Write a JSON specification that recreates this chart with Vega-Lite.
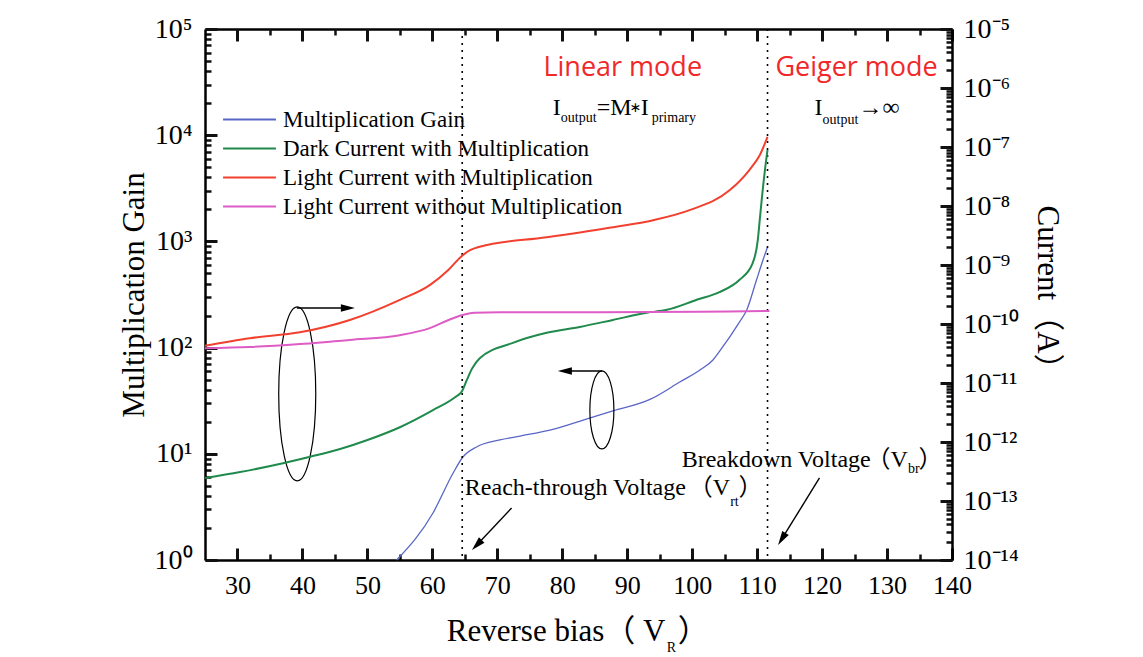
{
  "$schema": "https://vega.github.io/schema/vega-lite/v6.json",
  "width": 747,
  "height": 531,
  "autosize": {"type": "none"},
  "padding": {"left": 205, "top": 29, "right": 191, "bottom": 97},
  "background": "white",
  "config": {
    "view": {"stroke": null},
    "axis": {"grid": false, "ticks": true, "tickOpacity": 1, "domainColor": "#000", "tickColor": "#111111", "labelColor": "#000", "titleColor": "#000", "labelFont": "Liberation Serif", "titleFont": "Liberation Serif, Noto Sans CJK SC", "titleFontWeight": "normal", "labelFlush": false, "labelOverlap": false},
    "legend": {"labelFont": "Liberation Serif", "labelFontSize": 23, "labelColor": "#000", "symbolSize": 529, "symbolStrokeWidth": 2, "labelOffset": 21, "rowPadding": 4, "labelLimit": 0, "symbolType": "M-2.3,0L2.3,0"}
  },
  "datasets": {
    "curves": [
      {"series": "Multiplication Gain", "V": 54.5, "value": 1.0},
      {"series": "Multiplication Gain", "V": 60.1, "value": 2.77},
      {"series": "Multiplication Gain", "V": 63.2, "value": 6.6},
      {"series": "Multiplication Gain", "V": 64.7, "value": 9.33},
      {"series": "Multiplication Gain", "V": 66.8, "value": 11.6},
      {"series": "Multiplication Gain", "V": 70.4, "value": 13.5},
      {"series": "Multiplication Gain", "V": 73.5, "value": 14.7},
      {"series": "Multiplication Gain", "V": 78.1, "value": 16.7},
      {"series": "Multiplication Gain", "V": 84.2, "value": 21.7},
      {"series": "Multiplication Gain", "V": 87.8, "value": 25.3},
      {"series": "Multiplication Gain", "V": 93.5, "value": 32.5},
      {"series": "Multiplication Gain", "V": 98.1, "value": 47.4},
      {"series": "Multiplication Gain", "V": 101.2, "value": 61.5},
      {"series": "Multiplication Gain", "V": 103.2, "value": 76.4},
      {"series": "Multiplication Gain", "V": 104.2, "value": 92},
      {"series": "Multiplication Gain", "V": 107.3, "value": 175},
      {"series": "Multiplication Gain", "V": 108.4, "value": 226},
      {"series": "Multiplication Gain", "V": 109.9, "value": 433},
      {"series": "Multiplication Gain", "V": 110.8, "value": 640},
      {"series": "Multiplication Gain", "V": 111.6, "value": 886},
      {"series": "Dark Current with Multiplication", "V": 25, "value": 2.45e-13},
      {"series": "Dark Current with Multiplication", "V": 30.4, "value": 3.09e-13},
      {"series": "Dark Current with Multiplication", "V": 37.0, "value": 4.37e-13},
      {"series": "Dark Current with Multiplication", "V": 41.2, "value": 5.62e-13},
      {"series": "Dark Current with Multiplication", "V": 45.8, "value": 7.59e-13},
      {"series": "Dark Current with Multiplication", "V": 49.9, "value": 1.07e-12},
      {"series": "Dark Current with Multiplication", "V": 55.0, "value": 1.78e-12},
      {"series": "Dark Current with Multiplication", "V": 60.1, "value": 3.47e-12},
      {"series": "Dark Current with Multiplication", "V": 63.5, "value": 5.75e-12},
      {"series": "Dark Current with Multiplication", "V": 64.5, "value": 7.08e-12},
      {"series": "Dark Current with Multiplication", "V": 65.3, "value": 1.12e-11},
      {"series": "Dark Current with Multiplication", "V": 66.1, "value": 1.74e-11},
      {"series": "Dark Current with Multiplication", "V": 67.3, "value": 2.63e-11},
      {"series": "Dark Current with Multiplication", "V": 72.4, "value": 4.79e-11},
      {"series": "Dark Current with Multiplication", "V": 77.6, "value": 7.08e-11},
      {"series": "Dark Current with Multiplication", "V": 82.7, "value": 8.91e-11},
      {"series": "Dark Current with Multiplication", "V": 87.8, "value": 1.17e-10},
      {"series": "Dark Current with Multiplication", "V": 93.0, "value": 1.55e-10},
      {"series": "Dark Current with Multiplication", "V": 96.1, "value": 1.74e-10},
      {"series": "Dark Current with Multiplication", "V": 100.7, "value": 2.57e-10},
      {"series": "Dark Current with Multiplication", "V": 104.2, "value": 3.47e-10},
      {"series": "Dark Current with Multiplication", "V": 107.3, "value": 5.62e-10},
      {"series": "Dark Current with Multiplication", "V": 109.3, "value": 1.07e-9},
      {"series": "Dark Current with Multiplication", "V": 110.1, "value": 2.63e-9},
      {"series": "Dark Current with Multiplication", "V": 110.4, "value": 5.75e-9},
      {"series": "Dark Current with Multiplication", "V": 110.7, "value": 1.26e-8},
      {"series": "Dark Current with Multiplication", "V": 111.2, "value": 4.07e-8},
      {"series": "Dark Current with Multiplication", "V": 111.6, "value": 8.91e-8},
      {"series": "Light Current with Multiplication", "V": 25, "value": 4.27e-11},
      {"series": "Light Current with Multiplication", "V": 31.9, "value": 5.75e-11},
      {"series": "Light Current with Multiplication", "V": 39.6, "value": 7.24e-11},
      {"series": "Light Current with Multiplication", "V": 47.3, "value": 1.17e-10},
      {"series": "Light Current with Multiplication", "V": 55.0, "value": 2.57e-10},
      {"series": "Light Current with Multiplication", "V": 59.6, "value": 4.57e-10},
      {"series": "Light Current with Multiplication", "V": 62.5, "value": 8.32e-10},
      {"series": "Light Current with Multiplication", "V": 64.5, "value": 1.41e-9},
      {"series": "Light Current with Multiplication", "V": 65.8, "value": 1.78e-9},
      {"series": "Light Current with Multiplication", "V": 67.3, "value": 2.04e-9},
      {"series": "Light Current with Multiplication", "V": 77.6, "value": 2.95e-9},
      {"series": "Light Current with Multiplication", "V": 87.8, "value": 4.37e-9},
      {"series": "Light Current with Multiplication", "V": 94.0, "value": 5.75e-9},
      {"series": "Light Current with Multiplication", "V": 99.6, "value": 8.51e-9},
      {"series": "Light Current with Multiplication", "V": 105.8, "value": 1.86e-8},
      {"series": "Light Current with Multiplication", "V": 108.8, "value": 4.07e-8},
      {"series": "Light Current with Multiplication", "V": 110.4, "value": 7.24e-8},
      {"series": "Light Current with Multiplication", "V": 111.6, "value": 1.48e-7},
      {"series": "Light Current without Multiplication", "V": 25, "value": 3.89e-11},
      {"series": "Light Current without Multiplication", "V": 31.9, "value": 4.07e-11},
      {"series": "Light Current without Multiplication", "V": 39.6, "value": 4.57e-11},
      {"series": "Light Current without Multiplication", "V": 47.3, "value": 5.37e-11},
      {"series": "Light Current without Multiplication", "V": 55.0, "value": 6.46e-11},
      {"series": "Light Current without Multiplication", "V": 59.6, "value": 8.51e-11},
      {"series": "Light Current without Multiplication", "V": 62.5, "value": 1.17e-10},
      {"series": "Light Current without Multiplication", "V": 64.5, "value": 1.41e-10},
      {"series": "Light Current without Multiplication", "V": 66.5, "value": 1.55e-10},
      {"series": "Light Current without Multiplication", "V": 70.4, "value": 1.58e-10},
      {"series": "Light Current without Multiplication", "V": 85.8, "value": 1.58e-10},
      {"series": "Light Current without Multiplication", "V": 101.2, "value": 1.62e-10},
      {"series": "Light Current without Multiplication", "V": 111.9, "value": 1.66e-10}
    ],
    "vlines": [{"V": 64.6}, {"V": 111.6}],
    "ellipses": [{"id": "e1", "V": 39.2, "gain": 36.6}, {"id": "e2", "V": 86.1, "gain": 25.9}],
    "arrows": [
      {"id": "a1", "V": 39.15, "gain": 236, "V2": 47.0, "gain2": 236},
      {"id": "a2", "V": 86.15, "gain": 60.2, "V2": 80.4, "gain2": 60.2},
      {"id": "a3", "V": 72.2, "gain": 3.09, "V2": 66.85, "gain2": 1.384},
      {"id": "a4", "V": 119.6, "gain": 5.92, "V2": 113.8, "gain2": 1.578}
    ],
    "modes": [
      {"label": "Linear mode", "V": 89.31, "gain": 42950},
      {"label": "Geiger mode", "V": 125.31, "gain": 42950}
    ],
    "notes": [
      {"label": "I", "V": 78.54, "gain": 15490},
      {"label": "=M", "V": 85.31, "gain": 15490},
      {"label": "I", "V": 92.08, "gain": 15490},
      {"label": "I", "V": 118.85, "gain": 15490},
      {"label": "→∞", "V": 125.62, "gain": 15490},
      {"label": "Reach-through Voltage", "V": 65.0, "gain": 4.09},
      {"label": "（V", "V": 99.46, "gain": 4.09},
      {"label": "）", "V": 107.15, "gain": 4.09},
      {"label": "Breakdown Voltage", "V": 98.38, "gain": 7.51},
      {"label": "（V", "V": 126.85, "gain": 7.51},
      {"label": "）", "V": 134.85, "gain": 7.51}
    ],
    "xtitle": [
      {"label": "Reverse bias（ V", "V": 62.23, "gain": 0.1727},
      {"label": "）", "V": 97.77, "gain": 0.1727}
    ],
    "stars": [
      {"label": "∗", "V": 90.38, "gain": 16530}
    ],
    "subs": [
      {"label": "output", "V": 79.77, "gain": 13310},
      {"label": "primary", "V": 93.77, "gain": 13310},
      {"label": "output", "V": 120.08, "gain": 12740},
      {"label": "rt", "V": 105.85, "gain": 3.22},
      {"label": "br", "V": 133.23, "gain": 6.59},
      {"label": "R", "V": 96.08, "gain": 0.136}
    ]
  },
  "layer": [
    {
      "layer": [
        {
          "data": {"name": "curves"},
          "transform": [{"filter": "datum.series === 'Multiplication Gain'"}],
          "mark": {"type": "line", "interpolate": "monotone", "strokeWidth": 1.3},
          "encoding": {
            "x": {"field": "V", "type": "quantitative", "scale": {"domain": [25, 140], "nice": false, "zero": false},
              "axis": {"orient": "bottom", "offset": -12, "values": [30, 40, 50, 60, 70, 80, 90, 100, 110, 120, 130, 140], "ticks": true, "tickSize": 12, "tickWidth": 3, "tickColor": "#111111", "domain": false, "labelFontSize": 26, "labelPadding": 12, "title": null}},
            "y": {"field": "value", "type": "quantitative", "scale": {"type": "log", "domain": [1, 100000], "nice": false},
              "axis": {"orient": "left", "offset": -12, "values": [1, 10, 100, 1000, 10000, 100000], "ticks": true, "tickSize": 12, "tickWidth": 3, "tickColor": "#111111", "domain": false, "labelFontSize": 28, "labelPadding": 13, "labelExpr": "'10' + ['⁰','¹','²','³','⁴','⁵'][round(log(datum.value)/LN10)]", "title": "Multiplication Gain", "titleFontSize": 31, "titlePadding": 4}},
            "color": {"field": "series", "type": "nominal",
              "scale": {"domain": ["Multiplication Gain", "Dark Current with Multiplication", "Light Current with Multiplication", "Light Current without Multiplication"], "range": ["#5A66C6", "#1F8A4C", "#F2402F", "#DE5CC6"]},
              "legend": {"orient": "none", "legendX": 32, "legendY": 78, "title": null}}
          }
        },
        {
          "data": {"name": "ellipses"},
          "transform": [{"filter": "datum.id === 'e1'"}],
          "mark": {"type": "point", "shape": "M-0.213,0 A0.213,1 0 1,0 0.213,0 A0.213,1 0 1,0 -0.213,0 Z", "size": 30276, "filled": false, "stroke": "#000", "strokeWidth": 1.2, "opacity": 1},
          "encoding": {
            "x": {"field": "V", "type": "quantitative", "scale": {"domain": [25, 140], "nice": false, "zero": false},
              "axis": {"orient": "bottom", "offset": -6, "values": [35, 45, 55, 65, 75, 85, 95, 105, 115, 125, 135], "ticks": true, "tickSize": 6, "tickWidth": 2.5, "tickColor": "#111111", "labels": false, "domain": false, "title": null}},
            "y": {"field": "gain", "type": "quantitative", "scale": {"type": "log", "domain": [1, 100000], "nice": false},
              "axis": {"orient": "left", "offset": -6, "values": [2,3,4,5,6,7,8,9,20,30,40,50,60,70,80,90,200,300,400,500,600,700,800,900,2000,3000,4000,5000,6000,7000,8000,9000,20000,30000,40000,50000,60000,70000,80000,90000], "ticks": true, "tickSize": 6, "tickWidth": 2.5, "tickColor": "#111111", "labels": false, "domain": false, "title": null}}
          }
        },
        {
          "data": {"name": "ellipses"},
          "transform": [{"filter": "datum.id === 'e2'"}],
          "mark": {"type": "point", "shape": "M-0.308,0 A0.308,1 0 1,0 0.308,0 A0.308,1 0 1,0 -0.308,0 Z", "size": 6084, "filled": false, "stroke": "#000", "strokeWidth": 1.2, "opacity": 1},
          "encoding": {
            "x": {"field": "V", "type": "quantitative", "scale": {"domain": [25, 140], "nice": false, "zero": false},
              "axis": {"orient": "bottom", "values": [], "ticks": false, "labels": false, "domain": true, "domainWidth": 2.5, "title": null}},
            "y": {"field": "gain", "type": "quantitative", "scale": {"type": "log", "domain": [1, 100000], "nice": false},
              "axis": {"orient": "left", "values": [], "ticks": false, "labels": false, "domain": true, "domainWidth": 2.5, "title": null}}
          }
        },
        {
          "data": {"name": "vlines"},
          "mark": {"type": "rule", "strokeDash": [2, 5], "strokeWidth": 1.6, "color": "#000"},
          "encoding": {
            "x": {"field": "V", "type": "quantitative", "scale": {"domain": [25, 140], "nice": false, "zero": false}, "axis": null}
          }
        },
        {
          "data": {"name": "arrows"},
          "mark": {"type": "rule", "strokeWidth": 1.4, "color": "#000"},
          "encoding": {
            "x": {"field": "V", "type": "quantitative", "scale": {"domain": [25, 140], "nice": false, "zero": false}, "axis": null},
            "y": {"field": "gain", "type": "quantitative", "scale": {"type": "log", "domain": [1, 100000], "nice": false}, "axis": null},
            "x2": {"field": "V2"},
            "y2": {"field": "gain2"}
          }
        },
        {
          "data": {"name": "arrows"},
          "transform": [{"filter": "datum.id === 'a1'"}],
          "mark": {"type": "point", "shape": "M1,0 L-1,0.55 L-1,-0.55 Z", "size": 196, "filled": true, "color": "#000", "opacity": 1, "angle": 0},
          "encoding": {
            "x": {"field": "V2", "type": "quantitative", "scale": {"domain": [25, 140], "nice": false, "zero": false}, "axis": null},
            "y": {"field": "gain2", "type": "quantitative", "scale": {"type": "log", "domain": [1, 100000], "nice": false}, "axis": null}
          }
        },
        {
          "data": {"name": "arrows"},
          "transform": [{"filter": "datum.id === 'a2'"}],
          "mark": {"type": "point", "shape": "M1,0 L-1,0.55 L-1,-0.55 Z", "size": 196, "filled": true, "color": "#000", "opacity": 1, "angle": 180},
          "encoding": {
            "x": {"field": "V2", "type": "quantitative", "scale": {"domain": [25, 140], "nice": false, "zero": false}, "axis": null},
            "y": {"field": "gain2", "type": "quantitative", "scale": {"type": "log", "domain": [1, 100000], "nice": false}, "axis": null}
          }
        },
        {
          "data": {"name": "arrows"},
          "transform": [{"filter": "datum.id === 'a3'"}],
          "mark": {"type": "point", "shape": "M1,0 L-1,0.55 L-1,-0.55 Z", "size": 196, "filled": true, "color": "#000", "opacity": 1, "angle": 134},
          "encoding": {
            "x": {"field": "V2", "type": "quantitative", "scale": {"domain": [25, 140], "nice": false, "zero": false}, "axis": null},
            "y": {"field": "gain2", "type": "quantitative", "scale": {"type": "log", "domain": [1, 100000], "nice": false}, "axis": null}
          }
        },
        {
          "data": {"name": "arrows"},
          "transform": [{"filter": "datum.id === 'a4'"}],
          "mark": {"type": "point", "shape": "M1,0 L-1,0.55 L-1,-0.55 Z", "size": 196, "filled": true, "color": "#000", "opacity": 1, "angle": 122},
          "encoding": {
            "x": {"field": "V2", "type": "quantitative", "scale": {"domain": [25, 140], "nice": false, "zero": false}, "axis": null},
            "y": {"field": "gain2", "type": "quantitative", "scale": {"type": "log", "domain": [1, 100000], "nice": false}, "axis": null}
          }
        },
        {
          "data": {"name": "modes"},
          "mark": {"type": "text", "align": "center", "baseline": "middle", "font": "Open Sans", "fontSize": 27, "color": "#F0282A"},
          "encoding": {
            "x": {"field": "V", "type": "quantitative", "scale": {"domain": [25, 140], "nice": false, "zero": false},
              "axis": {"orient": "top", "values": [], "ticks": false, "labels": false, "domain": true, "domainWidth": 2.5, "title": null}},
            "y": {"field": "gain", "type": "quantitative", "scale": {"type": "log", "domain": [1, 100000], "nice": false}, "axis": null},
            "text": {"field": "label"}
          }
        },
        {
          "data": {"name": "notes"},
          "mark": {"type": "text", "align": "left", "baseline": "alphabetic", "font": "Liberation Serif, Noto Sans CJK SC", "fontSize": 24, "color": "#000"},
          "encoding": {
            "x": {"field": "V", "type": "quantitative", "scale": {"domain": [25, 140], "nice": false, "zero": false},
              "axis": {"orient": "top", "offset": -12, "values": [30, 40, 50, 60, 70, 80, 90, 100, 110, 120, 130, 140], "ticks": true, "tickSize": 12, "tickWidth": 3, "tickColor": "#111111", "domain": false, "labels": false, "title": null}},
            "y": {"field": "gain", "type": "quantitative", "scale": {"type": "log", "domain": [1, 100000], "nice": false}, "axis": null},
            "text": {"field": "label"}
          }
        },
        {
          "data": {"name": "xtitle"},
          "mark": {"type": "text", "align": "left", "baseline": "alphabetic", "font": "Liberation Serif, Noto Sans CJK SC", "fontSize": 31, "color": "#000"},
          "encoding": {
            "x": {"field": "V", "type": "quantitative", "scale": {"domain": [25, 140], "nice": false, "zero": false}, "axis": null},
            "y": {"field": "gain", "type": "quantitative", "scale": {"type": "log", "domain": [1, 100000], "nice": false}, "axis": null},
            "text": {"field": "label"}
          }
        },
        {
          "data": {"name": "stars"},
          "mark": {"type": "text", "align": "left", "baseline": "alphabetic", "font": "DejaVu Sans", "fontSize": 14, "color": "#000"},
          "encoding": {
            "x": {"field": "V", "type": "quantitative", "scale": {"domain": [25, 140], "nice": false, "zero": false}, "axis": null},
            "y": {"field": "gain", "type": "quantitative", "scale": {"type": "log", "domain": [1, 100000], "nice": false}, "axis": null},
            "text": {"field": "label"}
          }
        },
        {
          "data": {"name": "subs"},
          "mark": {"type": "text", "align": "left", "baseline": "alphabetic", "font": "Liberation Serif", "fontSize": 14, "color": "#000"},
          "encoding": {
            "x": {"field": "V", "type": "quantitative", "scale": {"domain": [25, 140], "nice": false, "zero": false},
              "axis": {"orient": "top", "offset": -6, "values": [35, 45, 55, 65, 75, 85, 95, 105, 115, 125, 135], "ticks": true, "tickSize": 6, "tickWidth": 2.5, "tickColor": "#111111", "labels": false, "domain": false, "title": null}},
            "y": {"field": "gain", "type": "quantitative", "scale": {"type": "log", "domain": [1, 100000], "nice": false}, "axis": null},
            "text": {"field": "label"}
          }
        }
      ],
      "resolve": {"axis": {"x": "independent", "y": "independent"}}
    },
    {
      "layer": [
        {
          "data": {"name": "curves"},
          "transform": [{"filter": "datum.series === 'Dark Current with Multiplication'"}],
          "mark": {"type": "line", "interpolate": "monotone", "strokeWidth": 2},
          "encoding": {
            "x": {"field": "V", "type": "quantitative", "scale": {"domain": [25, 140], "nice": false, "zero": false}, "axis": null},
            "y": {"field": "value", "type": "quantitative", "scale": {"type": "log", "domain": [1e-14, 1e-5], "nice": false},
              "axis": {"orient": "right", "offset": -12, "values": [1e-14, 1e-13, 1e-12, 1e-11, 1e-10, 1e-9, 1e-8, 1e-7, 1e-6, 1e-5], "ticks": true, "tickSize": 12, "tickWidth": 3, "tickColor": "#111111", "domain": false, "labelFontSize": 28, "labelPadding": 11, "labelExpr": "'10⁻' + (round(-log(datum.value)/LN10) >= 10 ? '¹' : '') + ['⁰','¹','²','³','⁴','⁵','⁶','⁷','⁸','⁹'][round(-log(datum.value)/LN10) % 10]", "title": "Current（A）", "titleFontSize": 31, "titlePadding": 12}},
            "color": {"field": "series", "type": "nominal",
              "scale": {"domain": ["Multiplication Gain", "Dark Current with Multiplication", "Light Current with Multiplication", "Light Current without Multiplication"], "range": ["#5A66C6", "#1F8A4C", "#F2402F", "#DE5CC6"]},
              "legend": {"orient": "none", "legendX": 32, "legendY": 78, "title": null}}
          }
        },
        {
          "data": {"name": "curves"},
          "transform": [{"filter": "datum.series === 'Light Current with Multiplication'"}],
          "mark": {"type": "line", "interpolate": "monotone", "strokeWidth": 2},
          "encoding": {
            "x": {"field": "V", "type": "quantitative", "scale": {"domain": [25, 140], "nice": false, "zero": false}, "axis": null},
            "y": {"field": "value", "type": "quantitative", "scale": {"type": "log", "domain": [1e-14, 1e-5], "nice": false},
              "axis": {"orient": "right", "offset": -6, "values": [2e-14,3e-14,4e-14,5e-14,6e-14,7e-14,8e-14,9e-14,2e-13,3e-13,4e-13,5e-13,6e-13,7e-13,8e-13,9e-13,2e-12,3e-12,4e-12,5e-12,6e-12,7e-12,8e-12,9e-12,2e-11,3e-11,4e-11,5e-11,6e-11,7e-11,8e-11,9e-11,2e-10,3e-10,4e-10,5e-10,6e-10,7e-10,8e-10,9e-10,2e-9,3e-9,4e-9,5e-9,6e-9,7e-9,8e-9,9e-9,2e-8,3e-8,4e-8,5e-8,6e-8,7e-8,8e-8,9e-8,2e-7,3e-7,4e-7,5e-7,6e-7,7e-7,8e-7,9e-7,2e-6,3e-6,4e-6,5e-6,6e-6,7e-6,8e-6,9e-6], "ticks": true, "tickSize": 6, "tickWidth": 2.5, "tickColor": "#111111", "labels": false, "domain": false, "title": null}},
            "color": {"field": "series", "type": "nominal",
              "scale": {"domain": ["Multiplication Gain", "Dark Current with Multiplication", "Light Current with Multiplication", "Light Current without Multiplication"], "range": ["#5A66C6", "#1F8A4C", "#F2402F", "#DE5CC6"]},
              "legend": {"orient": "none", "legendX": 32, "legendY": 78, "title": null}}
          }
        },
        {
          "data": {"name": "curves"},
          "transform": [{"filter": "datum.series === 'Light Current without Multiplication'"}],
          "mark": {"type": "line", "interpolate": "monotone", "strokeWidth": 2},
          "encoding": {
            "x": {"field": "V", "type": "quantitative", "scale": {"domain": [25, 140], "nice": false, "zero": false}, "axis": null},
            "y": {"field": "value", "type": "quantitative", "scale": {"type": "log", "domain": [1e-14, 1e-5], "nice": false},
              "axis": {"orient": "right", "values": [], "ticks": false, "labels": false, "domain": true, "domainWidth": 2.5, "title": null}},
            "color": {"field": "series", "type": "nominal",
              "scale": {"domain": ["Multiplication Gain", "Dark Current with Multiplication", "Light Current with Multiplication", "Light Current without Multiplication"], "range": ["#5A66C6", "#1F8A4C", "#F2402F", "#DE5CC6"]},
              "legend": {"orient": "none", "legendX": 32, "legendY": 78, "title": null}}
          }
        }
      ],
      "resolve": {"axis": {"x": "independent", "y": "independent"}}
    }
  ],
  "resolve": {"scale": {"y": "independent"}, "axis": {"x": "independent", "y": "independent"}}
}
